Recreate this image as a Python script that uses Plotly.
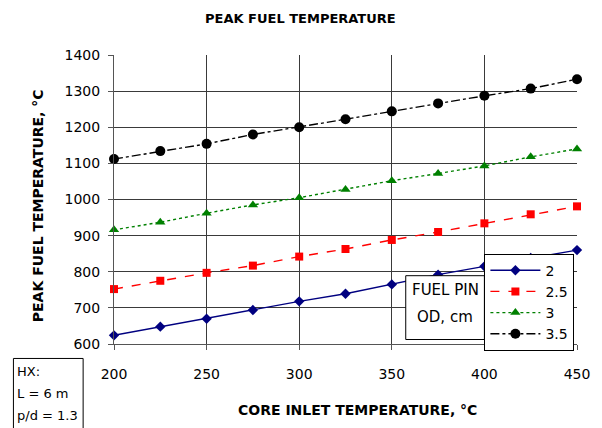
import plotly.graph_objects as go

x_vals = [200, 225, 250, 275, 300, 325, 350, 375, 400, 425, 450]
od_2 = [624, 648, 670, 694, 718, 739, 765, 792, 815, 838, 860]
od_25 = [752, 775, 797, 817, 842, 863, 888, 910, 934, 959, 981]
od_3 = [916, 937, 962, 985, 1005, 1028, 1052, 1072, 1093, 1118, 1140]
od_35 = [1112, 1134, 1154, 1180, 1200, 1222, 1244, 1266, 1287, 1307, 1333]
series_names = ["2", "2.5", "3", "3.5"]
x_ticks = [200, 250, 300, 350, 400, 450]
y_ticks = [600, 700, 800, 900, 1000, 1100, 1200, 1300, 1400]

FONT = "DejaVu Sans"

styles = [
    dict(color="#000080", dash="solid", symbol="diamond", size=8),
    dict(color="#FF0000", dash="dash", symbol="square", size=8),
    dict(color="#008000", dash="dot", symbol="triangle-up", size=9),
    dict(color="#000000", dash="dashdot", symbol="circle", size=10),
]

fig = go.Figure()
for name, ys, st in zip(series_names, [od_2, od_25, od_3, od_35], styles):
    fig.add_trace(go.Scatter(
        x=x_vals, y=ys, name=name, mode="lines+markers",
        line=dict(color=st["color"], dash=st["dash"], width=1.4),
        marker=dict(color=st["color"], symbol=st["symbol"], size=st["size"]),
        cliponaxis=False,
    ))

axis_common = dict(
    showgrid=True, gridcolor="#3a3a3a", gridwidth=1,
    showline=True, linecolor="#555555", linewidth=1,
    ticks="outside", ticklen=5, tickcolor="#555555",
    tickfont=dict(family=FONT, size=14, color="#000000"),
    zeroline=False,
)

fig.update_layout(
    width=602, height=428,
    margin=dict(l=114, r=23, t=55, b=83.5),
    paper_bgcolor="white", plot_bgcolor="white",
    font=dict(family=FONT, color="#000000"),
    showlegend=True,
    legend=dict(
        x=0.8, y=(344.5 - 302.5) / 289.8, xanchor="left", yanchor="middle",
        bordercolor="#000000", borderwidth=1, bgcolor="white",
        font=dict(family=FONT, size=14, color="#000000"),
        tracegroupgap=0, itemwidth=50,
    ),
    xaxis=dict(range=[200, 450], tickvals=x_ticks, ticklabelstandoff=12, **axis_common),
    yaxis=dict(range=[600, 1400], tickvals=y_ticks, ticklabelstandoff=5, **axis_common),
)

# Title and axis titles
fig.add_annotation(text="<b>PEAK FUEL TEMPERATURE</b>", xref="paper", yref="paper",
                   x=(301 - 114) / 465, y=(344.5 - 18) / 289.8, showarrow=False,
                   font=dict(family=FONT, size=13), xanchor="center", yanchor="middle")
fig.add_annotation(text="<b>CORE INLET TEMPERATURE, °C</b>", xref="paper", yref="paper",
                   x=(359 - 114) / 465, y=(344.5 - 411) / 289.8, showarrow=False,
                   font=dict(family=FONT, size=14), xanchor="center", yanchor="middle")
fig.add_annotation(text="<b>PEAK FUEL TEMPERATURE, °C</b>", xref="paper", yref="paper",
                   x=(38 - 114) / 465, y=(344.5 - 206) / 289.8, showarrow=False,
                   textangle=-90,
                   font=dict(family=FONT, size=14), xanchor="center", yanchor="middle")

# FUEL PIN OD box
fig.add_shape(type="rect", xref="paper", yref="paper",
              x0=(407 - 114) / 465, x1=(486 - 114) / 465,
              y0=(344.5 - 340) / 289.8, y1=(344.5 - 276) / 289.8,
              line=dict(color="#000000", width=1), fillcolor="white", layer="above")
fig.add_annotation(text="FUEL PIN", xref="paper", yref="paper",
                   x=(446.5 - 114) / 465, y=(344.5 - 290) / 289.8, showarrow=False,
                   font=dict(family=FONT, size=15), xanchor="center", yanchor="middle")
fig.add_annotation(text="OD, cm", xref="paper", yref="paper",
                   x=(446.5 - 114) / 465, y=(344.5 - 317) / 289.8, showarrow=False,
                   font=dict(family=FONT, size=15), xanchor="center", yanchor="middle")

# HX box
fig.add_shape(type="rect", xref="paper", yref="paper",
              x0=(13 - 114) / 465, x1=(83 - 114) / 465,
              y0=(344.5 - 432) / 289.8, y1=(344.5 - 359) / 289.8,
              line=dict(color="#000000", width=1), fillcolor="white", layer="above")
for txt, py in [("HX:", 372), ("L = 6 m", 394), ("p/d = 1.3", 416)]:
    fig.add_annotation(text=txt, xref="paper", yref="paper",
                       x=(15 - 114) / 465, y=(344.5 - py) / 289.8, showarrow=False,
                       font=dict(family=FONT, size=13), xanchor="left", yanchor="middle")

fig.write_html("out.html")
